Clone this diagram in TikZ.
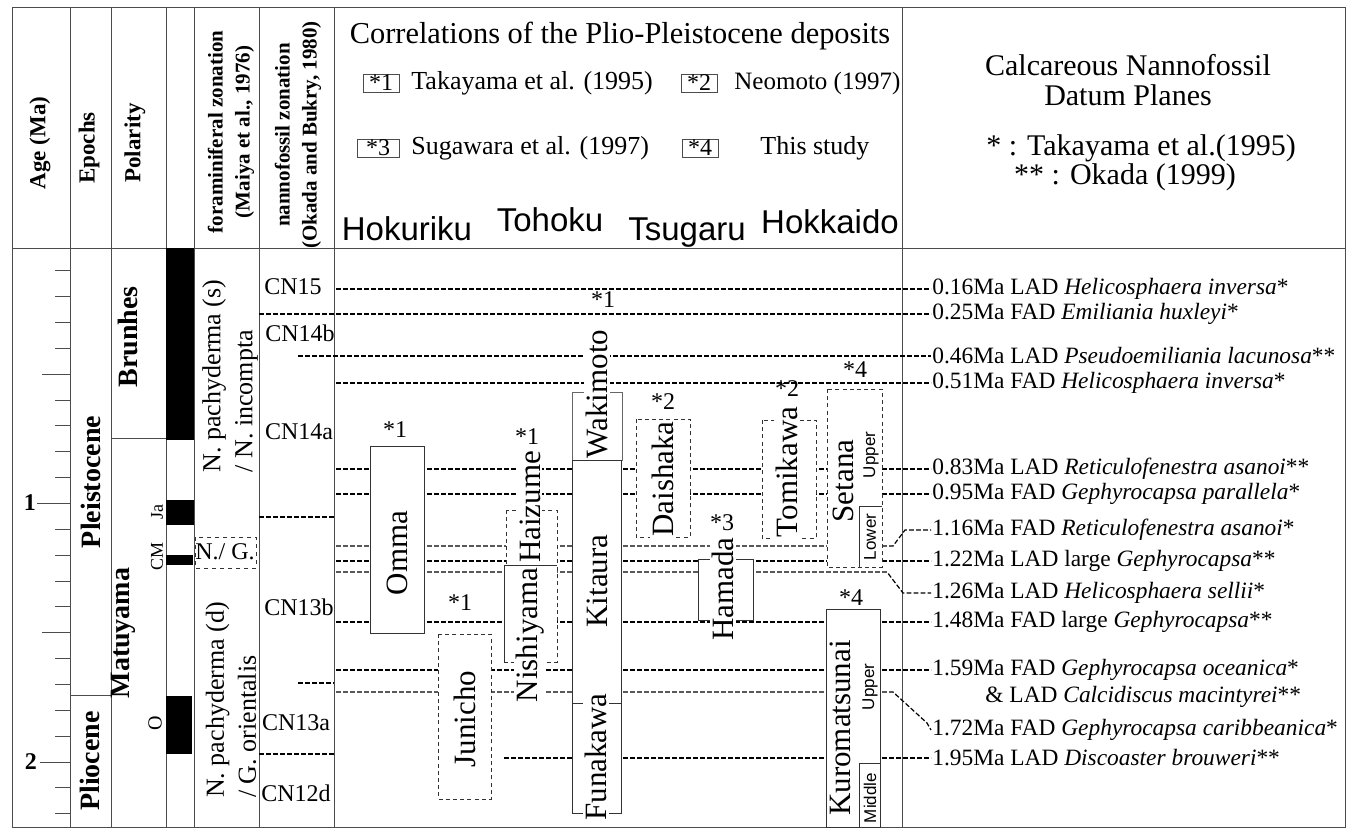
\documentclass[tikz,border=0pt]{standalone}
\usepackage{fontspec}
\setmainfont{Liberation Serif}
\setsansfont{Liberation Sans}
\newcommand{\myfs}[1]{\fontsize{#1}{#1}\selectfont}
\begin{document}
\begin{tikzpicture}[x=0.5pt,y=-0.5pt,
  frm/.style={draw=black!70,line width=0.5pt},
  dl/.style={draw=black,line width=0.6pt,dash pattern=on 2.4pt off 1.1pt},
  ubox/.style={draw=black!80,line width=0.5pt,fill=white},
  dbox/.style={draw=black!80,line width=0.5pt,fill=white,dash pattern=on 2pt off 1.6pt},
  unit/.style={rotate=90,fill=white,inner sep=0.8pt,font=\myfs{15.5}},
  sub/.style={rotate=90,inner sep=0.5pt,font=\sffamily\myfs{8.5}},
  ref/.style={inner sep=0.5pt,font=\myfs{12}},
  dat/.style={anchor=west,inner sep=0.5pt,font=\myfs{11.7}},
  hd/.style={rotate=90,align=center,font=\bfseries\fontsize{10.5}{13.5}\selectfont},
  ep/.style={rotate=90,font=\bfseries\myfs{14}},
  zn/.style={rotate=90,align=left,inner sep=0.5pt,font=\fontsize{13}{16}\selectfont},
  cn/.style={inner sep=0.5pt,font=\myfs{12}},
  leg/.style={anchor=west,inner sep=0.5pt,font=\myfs{13}},
  legbox/.style={draw=black!70,line width=0.5pt,minimum width=18pt,minimum height=9pt,inner sep=0pt,font=\myfs{12}},
  reg/.style={inner sep=0.5pt,font=\sffamily\myfs{16.5}},
  rh/.style={inner sep=0.5pt,font=\myfs{15}},
  ]
\useasboundingbox (0,0) rectangle (1351,830);
\fill[white] (0,0) rectangle (1351,830);

% ---------- frame ----------
\draw[frm] (12,7) rectangle (1345,827);
\draw[frm] (12,248) -- (1345,248);
\foreach \x in {70,111,166,194,259,334,902} \draw[frm] (\x,7) -- (\x,827);

% ---------- header texts ----------
\node[hd,font=\bfseries\myfs{11.5}] (hage) at (40,143) {Age (Ma)};
\node[hd,font=\bfseries\myfs{11.5}] (hep) at (89,148) {Epochs};
\node[hd,font=\bfseries\myfs{11.5}] (hpol) at (135,143) {Polarity};
\node[hd] (hfor) at (231,132) {foraminiferal zonation\\(Maiya et al., 1976)};
\node[hd] (hnan) at (298,135) {nannofossil zonation\\(Okada and Bukry, 1980)};

\node[font=\myfs{15.2},inner sep=0.5pt] (title) at (620,36) {Correlations of the Plio-Pleistocene deposits};
\node[legbox] (k1) at (381,83) {*1};
\node[leg] (t1) at (410,83) {Takayama et al. (1995)};
\node[legbox] (k2) at (699,83) {*2};
\node[leg,font=\myfs{12.5}] (t2) at (733,83) {Neomoto (1997)};
\node[legbox,minimum width=21pt] (k3) at (378,148) {*3};
\node[leg] (t3) at (410,148) {Sugawara et al. (1997)};
\node[legbox] (k4) at (700,148) {*4};
\node[leg] (t4) at (759,148) {This study};
\node[reg] (rhok) at (407,229) {Hokuriku};
\node[reg] (rtoh) at (550,220) {Tohoku};
\node[reg] (rtsu) at (687,233) {Tsugaru};
\node[reg] (rhkd) at (830,222) {Hokkaido};

\node[rh] (c1) at (1128,65) {Calcareous Nannofossil};
\node[rh] (c2) at (1128,95) {Datum Planes};
\node[rh] (c3) at (1141,148) {* : Takayama et al.(1995)};
\node[rh] (c4) at (1125,177) {** : Okada (1999)};

% ---------- age axis ----------
\foreach \k in {1,...,22} \draw[frm] (55,{245+\k*25.85}) -- (70,{245+\k*25.85});
\draw[frm] (42,{245+5*25.85}) -- (70,{245+5*25.85});
\draw[frm] (42,{245+15*25.85}) -- (70,{245+15*25.85});
\draw[frm] (37,{245+10*25.85}) -- (70,{245+10*25.85});
\draw[frm] (40,{245+20*25.85}) -- (70,{245+20*25.85});
\node[font=\bfseries\myfs{12},inner sep=0.5pt] (one) at (30,503) {1};
\node[font=\bfseries\myfs{12},inner sep=0.5pt] (two) at (31,762) {2};

% ---------- epochs / polarity ----------
\draw[frm] (70,695) -- (111,695);
\draw[frm] (111,438) -- (166,438);
\node[ep] (plei) at (91,482) {Pleistocene};
\node[ep] (plio) at (90,761) {Pliocene};
\node[ep] (bru) at (128,337) {Brunhes};
\node[ep] (mat) at (123,633) {Matuyama};
\fill (166,248) rectangle (194,440);
\fill (166,500) rectangle (194,525);
\fill (166,555) rectangle (193,565);
\fill (166,696) rectangle (192,754);
\node[rotate=90,font=\myfs{9},inner sep=0.5pt] (ja) at (157,512) {Ja};
\node[rotate=90,font=\myfs{9},inner sep=0.5pt] (cm) at (157,556) {CM};
\node[rotate=90,font=\myfs{10},inner sep=0.5pt] (ol) at (155,723) {O};

% ---------- foraminiferal zones ----------
\node[zn] (fz1) at (230,376) {N. pachyderma (s)\\/ N. incompta};
\node[zn] (fz2) at (231,700) {N. pachyderma (d)\\/ G. orientalis};
\draw[draw=black!80,line width=0.5pt,dash pattern=on 2pt off 2pt] (195,537) rectangle (256,568);
\node[font=\myfs{12},inner sep=0.5pt] (ng) at (225,552) {N./ G.};

% ---------- nannofossil zones ----------
\node[cn] (cn15) at (293,287) {CN15};
\node[cn] (cn14b) at (300,333) {CN14b};
\node[cn] (cn14a) at (299,432) {CN14a};
\node[cn] (cn13b) at (299,607) {CN13b};
\node[cn] (cn13a) at (296,723) {CN13a};
\node[cn] (cn12d) at (296,793) {CN12d};
\draw[dl] (259,517) -- (334,517);
\draw[dl] (298,683) -- (334,683);
\draw[dl] (259,754) -- (334,754);

% ---------- datum labels ----------
\node[dat] (d016) at (931,289) {0.16Ma LAD \textit{Helicosphaera inversa}*};
\node[dat] (d025) at (931,314) {0.25Ma FAD \textit{Emiliania huxleyi}*};
\node[dat] (d046) at (931,356) {0.46Ma LAD \textit{Pseudoemiliania lacunosa}**};
\node[dat] (d051) at (931,383) {0.51Ma FAD \textit{Helicosphaera inversa}*};
\node[dat] (d083) at (931,469) {0.83Ma LAD \textit{Reticulofenestra asanoi}**};
\node[dat] (d095) at (931,494) {0.95Ma FAD \textit{Gephyrocapsa parallela}*};
\node[dat] (d116) at (931,530) {1.16Ma FAD \textit{Reticulofenestra asanoi}*};
\node[dat] (d122) at (931,561) {1.22Ma LAD large \textit{Gephyrocapsa}**};
\node[dat] (d126) at (931,593) {1.26Ma LAD \textit{Helicosphaera sellii}*};
\node[dat] (d148) at (931,622) {1.48Ma FAD large \textit{Gephyrocapsa}**};
\node[dat] (d159) at (931,670) {1.59Ma FAD \textit{Gephyrocapsa oceanica}*};
\node[dat] (d159b) at (984,697) {\& LAD \textit{Calcidiscus macintyrei}**};
\node[dat] (d172) at (931,730) {1.72Ma FAD \textit{Gephyrocapsa caribbeanica}*};
\node[dat] (d195) at (931,758) {1.95Ma LAD \textit{Discoaster brouweri}**};

% ---------- datum lines ----------
\coordinate (a016) at (336,289);
\coordinate (a025) at (259,314);
\coordinate (a046) at (298,356);
\coordinate (a051) at (336,383);
\coordinate (a083) at (336,469);
\coordinate (a095) at (336,494);
\coordinate (a116) at (336,546);
\coordinate (a122) at (336,561);
\coordinate (a126) at (336,572);
\coordinate (a148) at (336,622);
\coordinate (a159) at (336,670);
\coordinate (a172) at (336,692);
\coordinate (a195) at (504,758);
\draw[dl] (a016) -- (d016.west);
\draw[dl] (a025) -- (d025.west);
\draw[dl] (a046) -- (d046.west);
\draw[dl] (a051) -- (d051.west);
\draw[dl] (a083) -- (d083.west);
\draw[dl] (a095) -- (d095.west);
\draw[dl] (a116) -- (893,546) -- (905,530) -- (d116.west);
\draw[dl] (a122) -- (d122.west);
\draw[dl] (a126) -- (887,572) -- (903,593) -- (d126.west);
\draw[dl] (a148) -- (d148.west);
\draw[dl] (a159) -- (d159.west);
\draw[dl] (a172) -- (893,692) -- (927,723) -- (d172.west);
\draw[dl] (a195) -- (d195.west);

% ---------- units ----------
% Hokuriku
\draw[ubox] (370,446) rectangle (424,633);
\draw[dbox] (438,634) rectangle (491,799);
% Tohoku
\draw[dbox] (506,510) rectangle (557,565);
\fill[white] (504,565) rectangle (557,662);
\draw[draw=black!80,line width=0.5pt,dash pattern=on 2pt off 1.6pt] (504,662) -- (557,662) -- (557,565);
\draw[draw=black!80,line width=0.5pt] (506,565) -- (504,565) -- (504,662);
\draw[draw=black!80,line width=0.5pt] (506,565) -- (557,565);
\draw[draw=black!60,line width=0.5pt,fill=white] (572,392) rectangle (622,460);
\draw[ubox] (572,460) rectangle (621,703);
\draw[ubox] (572,703) rectangle (621,813);
% Tsugaru
\draw[dbox] (636,419) rectangle (690,537);
\draw[ubox] (698,559) rectangle (753,620);
\draw[dbox] (762,420) rectangle (816,538);
% Hokkaido
\draw[dbox] (827,389) rectangle (882,567);
\draw[draw=black!80,line width=0.5pt] (882,506) -- (859,506) -- (859,567);
\draw[ubox] (826,609) rectangle (880,827);
\draw[draw=black!80,line width=0.5pt] (880,763) -- (859,763) -- (859,827);

% ---------- unit names ----------
\node[unit] (omma) at (397,553) {Omma};
\node[unit] (juni) at (465,719) {Junicho};
\node[unit] (haiz) at (530,507) {Haizume};
\node[unit] (nish) at (530,635) {Nishiyama};
\node[unit] (waki) at (597,394) {Wakimoto};
\node[unit] (kita) at (597,581) {Kitaura};
\node[unit] (funa) at (596,757) {Funakawa};
\node[unit] (dais) at (663,479) {Daishaka};
\node[unit] (hama) at (723,589) {Hamada};
\node[unit] (tomi) at (787,472) {Tomikawa};
\node[unit,fill=none] (seta) at (843,481) {Setana};
\node[unit,fill=none] (kuro) at (840,728) {Kuromatsunai};
\node[sub] (sup) at (871,455) {Upper};
\node[sub] (slo) at (870,537) {Lower};
\node[sub] (kup) at (870,687) {Upper};
\node[sub] (kmi) at (870,798) {Middle};

% ---------- reference marks ----------
\node[ref] (r1a) at (603,300) {*1};
\node[ref] (r1b) at (395,430) {*1};
\node[ref] (r1c) at (527,437) {*1};
\node[ref] (r1d) at (460,603) {*1};
\node[ref] (r2a) at (663,402) {*2};
\node[ref] (r2b) at (787,389) {*2};
\node[ref] (r3) at (722,523) {*3};
\node[ref] (r4a) at (855,370) {*4};
\node[ref] (r4b) at (851,598) {*4};
\end{tikzpicture}
\end{document}
